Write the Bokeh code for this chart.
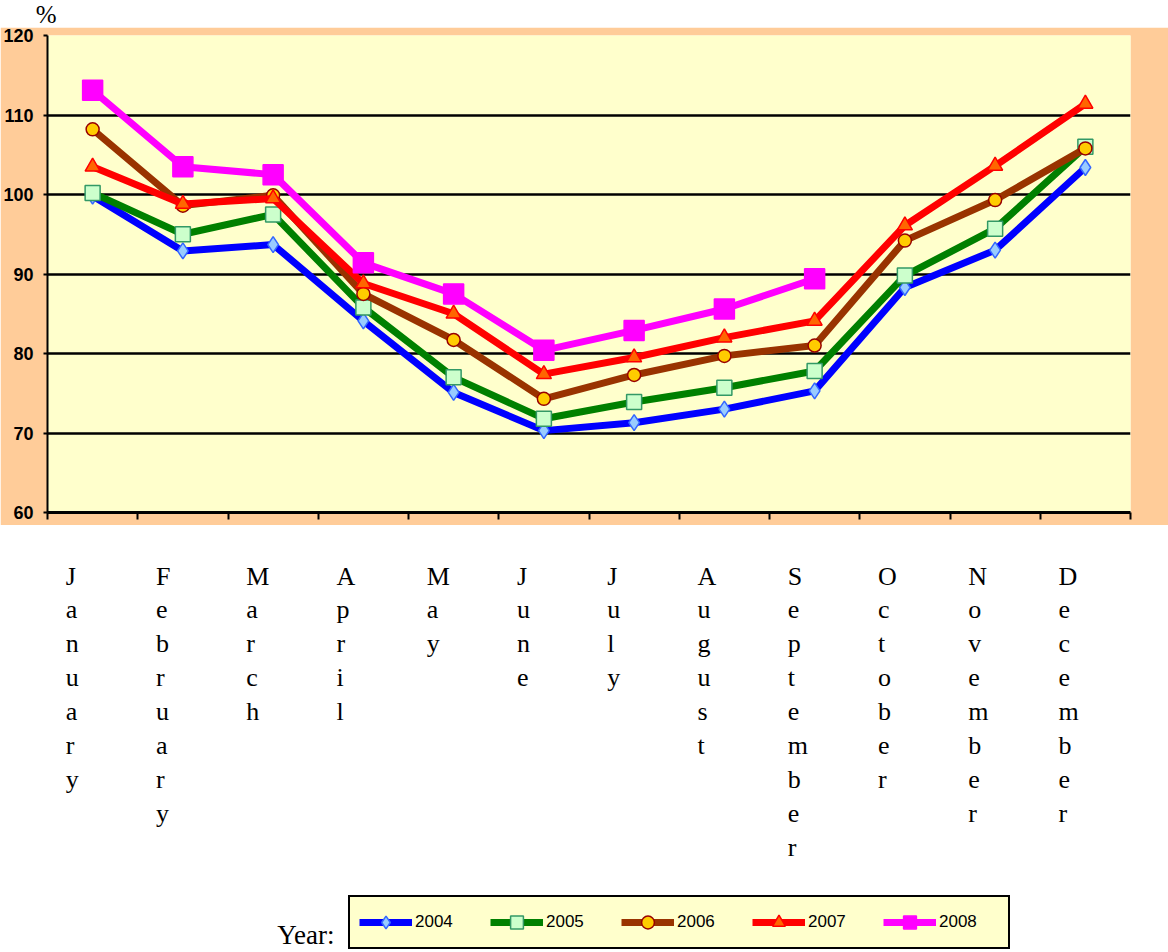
import numpy as np
from bokeh.plotting import figure
from bokeh.models import Range1d, FixedTicker, Legend, LegendItem
from bokeh.layouts import column
from bokeh.embed import file_html
from bokeh.resources import INLINE
from bokeh.core.properties import value

nan = float("nan")

# ---------------- data ----------------
months = ["January", "February", "March", "April", "May", "June", "July",
          "August", "September", "October", "November", "December"]
years = ["2004", "2005", "2006", "2007", "2008"]
y2004 = [99.8, 92.9, 93.7, 84.1, 75.1, 70.3, 71.3, 73.0, 75.3, 88.3, 93.0, 103.4]
y2005 = [100.2, 95.0, 97.5, 85.8, 77.0, 71.8, 73.9, 75.7, 77.8, 89.8, 95.7, 106.0]
y2006 = [108.2, 98.6, 99.9, 87.5, 81.7, 74.3, 77.3, 79.7, 81.0, 94.2, 99.3, 105.8]
y2007 = [103.5, 98.8, 99.5, 88.8, 85.0, 77.4, 79.5, 82.0, 84.1, 96.1, 103.6, 111.4]
y2008 = [113.1, 103.5, 102.5, 91.4, 87.5, 80.4, 82.9, 85.6, 89.4, nan, nan, nan]
y_ticks = [60, 70, 80, 90, 100, 110, 120]
grid_values = [70, 80, 90, 100, 110]
y_unit = "%"
legend_title = "Year:"

# ---------------- styles ----------------
styles = [
    # line colour, marker, size, fill, edge
    ("#0000FF", "diamond", 16, "#99CCFF", "#3366FF"),
    ("#008000", "square", 15, "#CCFFCC", "#339966"),
    ("#993300", "circle", 13, "#FFCC00", "#990000"),
    ("#FF0000", "triangle", 15, "#FF6600", "#FF0000"),
    ("#FF00FF", "square", 20, "#FF00FF", "#FF00FF"),
]
series = [y2004, y2005, y2006, y2007, y2008]

W = 1168
TOP_H = 27
MAIN_H = 498
BOT_H = 425
LEFT = 46
RIGHT = 38
FRAME_W = W - LEFT - RIGHT

x = np.arange(len(months)) + 0.5
xr = Range1d(0, len(months))
px_to_x = len(months) / FRAME_W

# ---------------- top strip with unit ----------------
top = figure(width=W, height=TOP_H, x_range=xr, y_range=Range1d(0, 10),
             output_backend="svg", toolbar_location=None,
             x_axis_location=None, y_axis_location="left",
             min_border_left=LEFT, min_border_right=RIGHT,
             min_border_top=0, min_border_bottom=0)
top.outline_line_color = None
top.grid.visible = False
top.yaxis.ticker = FixedTicker(ticks=[5])
top.yaxis.major_label_overrides = {5: y_unit}
top.yaxis.axis_line_color = None
top.yaxis.major_tick_line_color = None
top.yaxis.minor_tick_line_color = None
top.yaxis.major_tick_out = 0
top.yaxis.major_tick_in = 0
top.yaxis.major_label_standoff = -9
top.yaxis.major_label_text_font = "Liberation Serif"
top.yaxis.major_label_text_font_style = "normal"
top.yaxis.major_label_text_font_size = "25px"
top.yaxis.major_label_text_color = "black"

# ---------------- main chart ----------------
p = figure(width=W, height=MAIN_H, x_range=xr, y_range=Range1d(60, 120),
           output_backend="svg", toolbar_location=None,
           min_border_left=LEFT, min_border_right=RIGHT,
           min_border_top=8, min_border_bottom=13)
p.background_fill_color = "#FFFFCC"
p.border_fill_color = "#FFCC99"
p.outline_line_color = None
p.xgrid.visible = False
p.ygrid.ticker = FixedTicker(ticks=grid_values)
p.ygrid.grid_line_color = "black"
p.ygrid.grid_line_width = 2.5

p.yaxis.ticker = FixedTicker(ticks=y_ticks)
p.yaxis.major_label_text_font = "Liberation Sans"
p.yaxis.major_label_text_font_style = "bold"
p.yaxis.major_label_text_font_size = "18px"
p.yaxis.major_label_text_color = "black"
p.yaxis.major_label_standoff = 10
p.yaxis.major_tick_out = 4
p.yaxis.major_tick_in = 0
p.yaxis.minor_tick_line_color = None
p.yaxis.axis_line_width = 2
p.yaxis.major_tick_line_width = 2

p.xaxis.ticker = FixedTicker(ticks=list(range(len(months) + 1)))
p.xaxis.major_label_text_color = None
p.xaxis.major_label_standoff = 0
p.xaxis.major_tick_out = 7
p.xaxis.major_tick_in = 0
p.xaxis.minor_tick_line_color = None
p.xaxis.axis_line_width = 3
p.xaxis.major_tick_line_width = 2

for ys, (lc, mk, sz, fc, ec) in zip(series, styles):
    p.line(x=x, y=ys, line_color=lc, line_width=7)
    p.scatter(x=x, y=ys, marker=mk, size=sz, fill_color=fc, line_color=ec, line_width=1.5)

# ---------------- bottom: month labels and legend ----------------
b = figure(width=W, height=BOT_H, x_range=xr, y_range=Range1d(0, BOT_H),
           output_backend="svg", toolbar_location=None,
           x_axis_location=None, y_axis_location=None,
           min_border_left=LEFT, min_border_right=RIGHT,
           min_border_top=0, min_border_bottom=0)
b.outline_line_color = None
b.grid.visible = False
b.extra_y_ranges = {"hidden": Range1d(0, 1)}

labels = ["\n".join(m) for m in months]
b.text(x=x, y=[BOT_H - 36] * len(months), text=labels,
       text_font=value("Liberation Serif"), text_font_size="26px",
       text_line_height=1.17, text_baseline="top", text_align="left",
       x_offset=-27, text_color="black")

b.text(x=[230 * px_to_x], y=[16], text=[legend_title],
       text_font=value("Liberation Serif"), text_font_size="27px",
       text_baseline="alphabetic", text_align="left", text_color="black")

items = []
for yr, ys, (lc, mk, sz, fc, ec) in zip(years, series, styles):
    rl = b.line(x=x, y=ys, line_color=lc, line_width=7, y_range_name="hidden")
    rs = b.scatter(x=x, y=ys, marker=mk, size=sz, fill_color=fc, line_color=ec,
                   line_width=1.5, y_range_name="hidden")
    items.append(LegendItem(label=yr, renderers=[rl, rs]))

legend = Legend(items=items, orientation="horizontal", location=(301, 1),
                glyph_width=53, glyph_height=32, label_standoff=3,
                label_width=60, spacing=15, padding=9, margin=0,
                label_text_font="Liberation Sans", label_text_font_size="17px",
                label_text_color="black",
                border_line_color="black", border_line_width=2, border_line_alpha=1.0,
                background_fill_color="#FFFFCC", background_fill_alpha=1.0)
b.add_layout(legend)

layout = column(top, p, b, spacing=0)

with open("out.html", "w") as f:
    f.write(file_html(layout, INLINE))
